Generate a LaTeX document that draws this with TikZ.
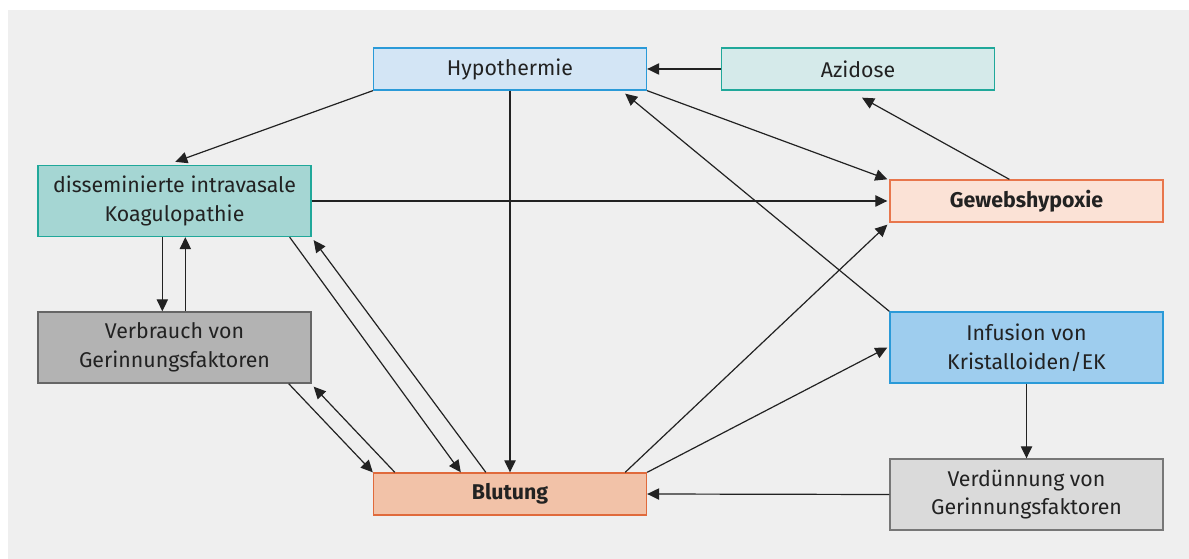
\documentclass[tikz,border=0pt]{standalone}
\usepackage{fontspec}
\setmainfont{Fira Sans}
\usetikzlibrary{arrows.meta,calc}
\definecolor{bg}{HTML}{EFEFEF}
\definecolor{txt}{HTML}{222222}
\definecolor{hypfill}{HTML}{D3E5F5}
\definecolor{blueline}{HTML}{2A9AD8}
\definecolor{azfill}{HTML}{D5EAEA}
\definecolor{tealline}{HTML}{20A89A}
\definecolor{dicfill}{HTML}{A5D6D3}
\definecolor{gewfill}{HTML}{FBE2D6}
\definecolor{orangeline}{HTML}{E8764C}
\definecolor{verbfill}{HTML}{B3B3B3}
\definecolor{verbline}{HTML}{666666}
\definecolor{inffill}{HTML}{9ECDEE}
\definecolor{verdfill}{HTML}{DADADA}
\definecolor{verdline}{HTML}{777777}
\definecolor{blutfill}{HTML}{F2C2A8}
\definecolor{blutline}{HTML}{E06A3C}
\tikzset{
  box/.style={draw, line width=1pt, minimum width=204.75pt, inner sep=0pt,
    align=center, text=txt, font=\fontsize{16}{21.5}\selectfont},
  low/.style={minimum height=31.5pt},
  high/.style={minimum height=53.25pt},
  boldtext/.style={font=\fontsize{16}{21.5}\selectfont\bfseries},
  conn/.style={draw=txt, line width=0.9pt, -{Triangle[length=9pt,width=8.5pt]}}
}
\begin{document}
\begin{tikzpicture}[x=0.75pt,y=-0.75pt]
\useasboundingbox (0,0) rectangle (1189,559);
\fill[bg] (8,10) rectangle (1189,559);
\node[box,low,fill=hypfill,draw=blueline] (hyp) at (510,69) {Hypothermie};
\node[box,low,fill=azfill,draw=tealline] (az) at (858,69) {Azidose};
\node[box,high,fill=dicfill,draw=tealline] (dic) at (174.5,201) {disseminierte intravasale\\Koagulopathie};
\node[box,low,fill=gewfill,draw=orangeline,boldtext] (gew) at (1026.5,201) {Gewebshypoxie};
\node[box,high,fill=verbfill,draw=verbline] (verb) at (174.5,347.5) {Verbrauch von\\Gerinnungsfaktoren};
\node[box,high,fill=inffill,draw=blueline] (inf) at (1026.5,347.5) {Infusion von\\Kristalloiden/EK};
\node[box,high,fill=verdfill,draw=verdline] (verd) at (1026.5,494.5) {Verdünnung von\\Gerinnungsfaktoren};
\node[box,low,fill=blutfill,draw=blutline,boldtext] (blut) at (510,494) {Blutung};

\draw[conn] (az.west) -- (hyp.east);
\draw[conn] (hyp.south west) -- ($(dic.north west)+(138,-3)$);
\draw[conn] (hyp.south east) -- ($(gew.north west)+(-2,0)$);
\draw[conn] (hyp.south) -- (blut.north);
\draw[conn] (inf.north west) -- ($(hyp.south east)+(-22,3)$);
\draw[conn] ($(gew.north west)+(120,0)$) -- ($(az.south)+(4,7)$);
\draw[conn] (dic.east) -- ($(gew.west)+(-2,0)$);
\draw[conn] ($(dic.south west)+(125,0)$) -- ($(verb.north west)+(125,0)$);
\draw[conn] ($(verb.north west)+(148,0)$) -- ($(dic.south west)+(148,0)$);
\draw[conn] ($(dic.south east)+(-22,0)$) -- ($(blut.north west)+(88,0)$);
\draw[conn] ($(blut.north west)+(113,0)$) -- ($(dic.south east)+(2,3)$);
\draw[conn] ($(verb.south east)+(-23,0)$) -- (blut.north west);
\draw[conn] ($(blut.north west)+(22,0)$) -- ($(verb.south east)+(2,3)$);
\draw[conn] ($(blut.north east)+(-22,0)$) -- ($(gew.south west)+(-2,2)$);
\draw[conn] (blut.north east) -- ($(inf.west)+(-2,0)$);
\draw[conn] (inf.south) -- (verd.north);
\draw[conn] (verd.west) -- (blut.east);
\end{tikzpicture}
\end{document}
